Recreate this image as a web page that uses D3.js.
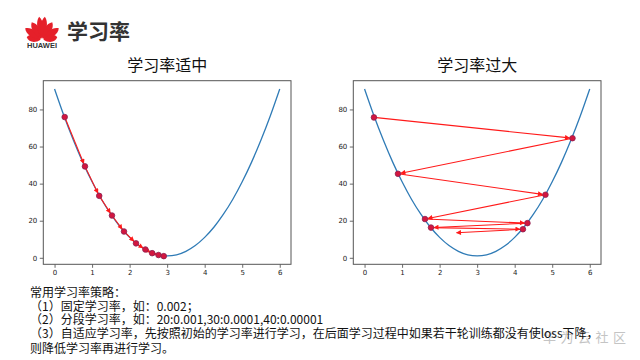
<!DOCTYPE html>
<html><head><meta charset="utf-8">
<script src="https://cdnjs.cloudflare.com/ajax/libs/d3/7.8.5/d3.min.js"></script>
<style>
html,body{margin:0;padding:0;background:#fff;}
svg{display:block;}
</style></head>
<body>
<svg id="c" width="640" height="360"></svg>
<script>
// ---- data ----
const curveX = [0,0.25,0.5,0.75,1,1.25,1.5,1.75,2,2.25,2.5,2.75,3,3.25,3.5,3.75,4,4.25,4.5,4.75,5,5.25,5.5,5.75,6];
const curveY = [91,76.6,63.5,51.6,41,31.6,23.5,16.6,11,6.6,3.5,1.6,1,1.6,3.5,6.6,11,16.6,23.5,31.6,41,51.6,63.5,76.6,91];
const leftX = [0.27,0.81,1.19,1.53,1.85,2.17,2.42,2.6,2.77,2.91];
const leftY = [75.9,49.3,33.4,22.8,14.2,7.8,4.5,2.5,1.5,0.9];
const rightX = [0.25,5.54,0.89,4.82,1.61,4.34,1.77,4.22];
const rightY = [75.7,64.5,45.3,34.0,20.9,18.7,16.3,15.4];
const rightLastArrowEnd = [2.37,13.4];
const xTicks = [0,1,2,3,4,5,6];
const yTicks = [0,20,40,60,80];
const titles = ["学习率适中","学习率过大"];
const pageTitle = "学习率";
const notes = [
  "常用学习率策略：",
  "（1）固定学习率，如：0.002；",
  "（2）分段学习率，如：20:0.001,30:0.0001,40:0.00001",
  "（3）自适应学习率，先按照初始的学习率进行学习，在后面学习过程中如果若干轮训练都没有使loss下降，",
  "则降低学习率再进行学习。"
];
const watermark = "华为云社区";

const svg = d3.select("#c");
const CJK = "'Noto Sans CJK SC','Noto Sans',sans-serif";

// arrow marker
svg.append("defs").append("marker")
  .attr("id","ah").attr("markerUnits","userSpaceOnUse")
  .attr("viewBox","0 0 10 10").attr("refX",9).attr("refY",5)
  .attr("markerWidth",6).attr("markerHeight",5).attr("orient","auto")
  .append("path").attr("d","M0,0 L10,5 L0,10 z").attr("fill","#ff1a1a");

// ---- header / logo ----
const logo = svg.append("g").attr("transform","translate(42,40)");
const petalAngles = [-170,-145,-120,-97,-83,-60,-35,-10];
petalAngles.forEach((a,i)=>{
  const len = (i===0||i===7)?14:(i===3||i===4?22:19);
  const w = (i===3||i===4)?4.2:4.6;
  logo.append("path")
    .attr("d",`M0,0 C${w},${-len*0.35} ${w},${-len*0.8} 0,${-len} C${-w},${-len*0.8} ${-w},${-len*0.35} 0,0 Z`)
    .attr("transform",`rotate(${a+90}) translate(0,-1.5)`)
    .attr("fill","#e5202a");
});
svg.append("text").attr("x",42).attr("y",48).attr("text-anchor","middle")
  .attr("font-family","'Liberation Sans',Arial,sans-serif").attr("font-weight","bold")
  .attr("font-size",7.5).attr("fill","#333").text("HUAWEI");
svg.append("text").attr("x",67).attr("y",39)
  .attr("font-family",CJK).attr("font-weight","bold")
  .attr("font-size",21).attr("fill","#333").text(pageTitle);

// ---- charts ----
function chart(x0,x1,title,px,py,extraEnd){
  const xs = d3.scaleLinear().domain([-0.3,6.3]).range([x0,x1]);
  const ys = d3.scaleLinear().domain([-3.5,95.5]).range([264.3,80.7]);
  const g = svg.append("g");
  g.append("text").attr("x",(x0+x1)/2).attr("y",71).attr("text-anchor","middle")
    .attr("font-family",CJK).attr("font-size",16).attr("fill","#111").text(title);
  const line = d3.line().x(d=>xs(d[0])).y(d=>ys(d[1])).curve(d3.curveCatmullRom);
  g.append("path").datum(curveX.map((x,i)=>[x,curveY[i]]))
    .attr("d",line).attr("fill","none").attr("stroke","#2f7bb6").attr("stroke-width",1.3);
  // arrows
  const pts = px.map((x,i)=>[x,py[i]]);
  const targets = pts.slice(1);
  if(extraEnd) targets.push(extraEnd);
  targets.forEach((t,i)=>{
    const s = pts[i];
    const sx=xs(s[0]), sy=ys(s[1]), tx=xs(t[0]), ty=ys(t[1]);
    const L = Math.hypot(tx-sx,ty-sy), sh = Math.min(3, L*0.25);
    g.append("line").attr("x1",sx).attr("y1",sy)
      .attr("x2",tx-(tx-sx)/L*sh).attr("y2",ty-(ty-sy)/L*sh)
      .attr("stroke","#ff1a1a").attr("stroke-width",1.1).attr("marker-end","url(#ah)");
  });
  g.selectAll("circle.p").data(pts).enter().append("circle")
    .attr("cx",d=>xs(d[0])).attr("cy",d=>ys(d[1])).attr("r",2.8)
    .attr("fill","#d3163f").attr("stroke","#8a2353").attr("stroke-width",0.8);
  // axes
  const ax = g.append("g").attr("transform","translate(0,264.3)")
    .call(d3.axisBottom(xs).tickValues(xTicks).tickFormat(d3.format("d")).tickSize(3.5).tickPadding(2.5));
  const ay = g.append("g").attr("transform",`translate(${x0},0)`)
    .call(d3.axisLeft(ys).tickValues(yTicks).tickFormat(d3.format("d")).tickSize(3.5).tickPadding(2.5));
  [ax,ay].forEach(a=>{
    a.select(".domain").remove();
    a.selectAll("line").attr("stroke","#444").attr("stroke-width",0.8);
    a.selectAll("text").attr("font-family","'DejaVu Sans',sans-serif").attr("font-size",7).attr("fill","#222");
  });
  g.append("rect").attr("x",x0).attr("y",80.7).attr("width",x1-x0).attr("height",264.3-80.7)
    .attr("fill","none").attr("stroke","#555").attr("stroke-width",1);
}
chart(43.3,291,titles[0],leftX,leftY,null);
chart(353.3,601,titles[1],rightX,rightY,rightLastArrowEnd);

// ---- watermark ----
svg.append("text").attr("x",543).attr("y",341.5)
  .attr("font-family",CJK).attr("font-size",13).attr("letter-spacing",4.5)
  .attr("fill","#c4c4c4").text(watermark);

// ---- notes (one text block, one tspan per line) ----
const lineY = [296.5,310.5,324,337.5,353];
const notesText = svg.append("text")
  .attr("font-family",CJK).attr("font-size",12).attr("fill","#111");
notes.forEach((t,i)=>{
  notesText.append("tspan").attr("x",30).attr("y",lineY[i]).text(t);
});
</script>
</body></html>
